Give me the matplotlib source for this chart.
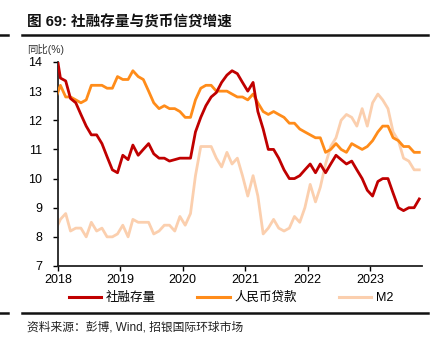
import matplotlib
matplotlib.use("Agg")
import matplotlib.pyplot as plt
import matplotlib.dates as mdates
import pandas as pd
from matplotlib.lines import Line2D

plt.rcParams['font.family'] = ['Liberation Sans', 'Noto Sans CJK SC', 'DejaVu Sans']

# Monthly data, Dec 2017 - Oct 2023
start_month = '2017-12-01'
n_months = 71

tsf_stock = [14.6,
             13.45, 13.35, 12.75, 12.6, 12.2, 11.8, 11.5, 11.5, 11.2, 10.75, 10.3, 10.2,
             10.8, 10.65, 11.15, 10.8, 11.0, 11.2, 10.85, 10.7, 10.7, 10.6, 10.65, 10.7,
             10.7, 10.7, 11.6, 12.1, 12.5, 12.8, 12.95, 13.3, 13.55, 13.7, 13.6, 13.3,
             13.0, 13.3, 12.3, 11.7, 11.0, 11.0, 10.7, 10.3, 10.0, 10.0, 10.1, 10.3,
             10.5, 10.2, 10.5, 10.2, 10.5, 10.8, 10.65, 10.5, 10.6, 10.3, 10.0, 9.6,
             9.4, 9.9, 10.0, 10.0, 9.5, 9.0, 8.9, 9.0, 9.0, 9.3]

rmb_loans = [12.7,
             13.2, 12.8, 12.8, 12.7, 12.6, 12.7, 13.2, 13.2, 13.2, 13.1, 13.1, 13.5,
             13.4, 13.4, 13.7, 13.5, 13.4, 13.0, 12.6, 12.4, 12.5, 12.4, 12.4, 12.3,
             12.1, 12.1, 12.7, 13.1, 13.2, 13.2, 13.0, 13.0, 13.0, 12.9, 12.8, 12.8,
             12.7, 12.9, 12.6, 12.3, 12.2, 12.3, 12.2, 12.1, 11.9, 11.9, 11.7, 11.6,
             11.5, 11.4, 11.4, 10.9, 11.0, 11.2, 11.0, 10.9, 11.2, 11.1, 11.0, 11.1,
             11.3, 11.6, 11.8, 11.8, 11.4, 11.3, 11.1, 11.1, 10.9, 10.9]

m2 = [8.2,
      8.6, 8.8, 8.2, 8.3, 8.3, 8.0, 8.5, 8.2, 8.3, 8.0, 8.0, 8.1,
      8.4, 8.0, 8.6, 8.5, 8.5, 8.5, 8.1, 8.2, 8.4, 8.4, 8.2, 8.7,
      8.4, 8.8, 10.1, 11.1, 11.1, 11.1, 10.7, 10.4, 10.9, 10.5, 10.7, 10.1,
      9.4, 10.1, 9.4, 8.1, 8.3, 8.6, 8.3, 8.2, 8.3, 8.7, 8.5, 9.0,
      9.8, 9.2, 9.7, 10.5, 11.1, 11.4, 12.0, 12.2, 12.1, 11.8, 12.4, 11.8,
      12.6, 12.9, 12.7, 12.4, 11.6, 11.3, 10.7, 10.6, 10.3, 10.3]

series_names = ['社融存量', '人民币贷款', 'M2']
colors = ['#C00000', '#FF8C1A', '#FBCFAE']
year_ticks = [2018, 2019, 2020, 2021, 2022, 2023]
y_ticks = [7, 8, 9, 10, 11, 12, 13, 14]

dates = pd.date_range(start_month, periods=n_months, freq='MS') + pd.Timedelta(days=14)

W, H = 438, 346
fig = plt.figure(figsize=(W / 100, H / 100), dpi=100)
ax = fig.add_axes([58 / W, 1 - 266 / H, (422 - 58) / W, (266 - 62) / H])

# draw M2 first (behind), then loans, then TSF
ax.plot(dates, m2, color=colors[2], lw=2.0, solid_joinstyle='round', zorder=2)
ax.plot(dates, rmb_loans, color=colors[1], lw=2.0, solid_joinstyle='round', zorder=3)
ax.plot(dates, tsf_stock, color=colors[0], lw=2.0, solid_joinstyle='round', zorder=4)

ax.set_xlim(pd.Timestamp('2018-01-01'), pd.Timestamp('2023-10-31'))
ax.set_ylim(7, 14)
ax.set_yticks(y_ticks)
ax.set_xticks([pd.Timestamp(f'{y}-01-01') for y in year_ticks])
ax.xaxis.set_major_formatter(mdates.DateFormatter('%Y'))

for s in ['top', 'right']:
    ax.spines[s].set_visible(False)
for s in ['left', 'bottom']:
    ax.spines[s].set_linewidth(1.3)
    ax.spines[s].set_color('#222222')
ax.tick_params(axis='y', direction='out', length=3.5, width=1.0, pad=8, labelsize=9)
ax.tick_params(axis='x', direction='out', length=3.5, width=1.0, pad=2.5, labelsize=9)

# header / footer
fig.text(27 / W, 1 - 22 / H, '图 69: 社融存量与货币信贷增速', fontsize=10.5, fontweight='bold',
         va='center', ha='left', color='#111111')
fig.text(27 / W, 1 - 49 / H, '同比(%)', fontsize=7.5, va='center', ha='left', color='#333333')
fig.text(27 / W, 1 - 327 / H, '资料来源：彭博, Wind, 招银国际环球市场', fontsize=8.5,
         va='center', ha='left', color='#222222')

for yy in [35, 313]:
    fig.add_artist(Line2D([22 / W, 428 / W], [1 - yy / H, 1 - yy / H], color='#111111', lw=1.8))
    fig.add_artist(Line2D([0, 8 / W], [1 - yy / H, 1 - yy / H], color='#111111', lw=1.8))

handles = [Line2D([], [], color=c, lw=2.2) for c in colors]
fig.legend(handles, series_names, loc='center', bbox_to_anchor=(231 / W, 1 - 298 / H),
           ncol=3, frameon=False, fontsize=9, handlelength=2.6, handletextpad=0.4,
           columnspacing=3.3)

fig.savefig('out.png', dpi=100)
